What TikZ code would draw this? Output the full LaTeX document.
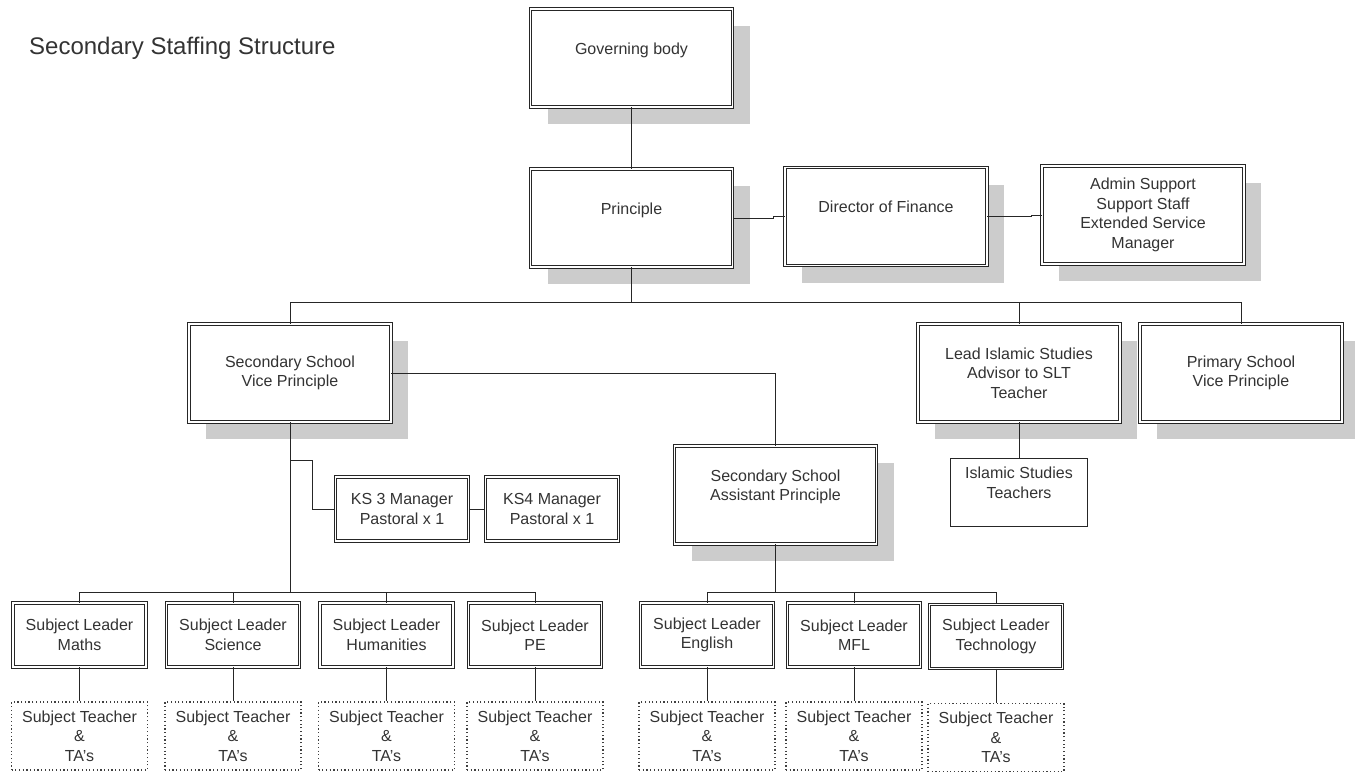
\documentclass[tikz,border=0pt]{standalone}
\usepackage{fontspec}
\setmainfont{Liberation Sans}
\usepackage{tikz}
\usetikzlibrary{positioning}
\usetikzlibrary{shadows}
\newcommand\orgfont{\fontsize{16}{19.5}\selectfont}
\newcommand\titlefont{\fontsize{24}{28}\selectfont}
\tikzset{%
	% Specifications for style of nodes:
	base/.style = {rectangle, draw=black!85, text=black!80,
		inner sep=2pt, align=center, font=\orgfont},
	post/.style = {base, fill=white, line width=0.9pt,
		double=white, double distance=1.5pt},
	seniorPost/.style = {post, minimum width=202pt, minimum height=98pt,
		drop shadow={shadow xshift=17pt, shadow yshift=-17pt, fill=black!20, opacity=1}},
	leaderPost/.style = {post, minimum width=133pt, minimum height=64pt},
	teamBox/.style = {base, draw=black!75, line width=1.2pt,
		dash pattern=on 1.2pt off 2.5pt, minimum width=136pt, minimum height=68pt},
	plainBox/.style = {base, line width=1pt, minimum width=137pt, minimum height=68pt},
	link/.style = {draw=black!85, line width=1pt},
}

\begin{document}
\begin{tikzpicture}[x=1pt, y=-1pt]
\useasboundingbox (0,0) rectangle (1355,776);

\node (title) [anchor=west, inner sep=0pt, text=black!80, font=\titlefont] at (29,48) {Secondary Staffing Structure};

% top of the structure
\node (governors) [seniorPost] at (631.5,58) {Governing body\\\mbox{}};
\node (principle) [seniorPost] at (631.5,218) {Principle\\\mbox{}};
\node (finance) [seniorPost] at (886,216.5) {Director of Finance\\\mbox{}};
\node (admin) [seniorPost] at (1143,215) {Admin Support\\Support Staff\\Extended Service\\Manager};

% vice principles
\node (secVP) [seniorPost] at (290,373) {Secondary School\\Vice Principle};
\node (islamicLead) [seniorPost] at (1019,373) {Lead Islamic Studies\\Advisor to SLT\\Teacher};
\node (primVP) [seniorPost] at (1241,373) {Primary School\\Vice Principle};
\node (islamicTeachers) [plainBox] at (1019,492.5) {Islamic Studies\\Teachers\\\mbox{}};
\node (assistP) [seniorPost] at (775.5,495) {Secondary School\\Assistant Principle\\\mbox{}};

% pastoral managers
\node (ks3) [leaderPost] at (402,509) {KS 3 Manager\\Pastoral x 1};
\node (ks4) [leaderPost] at (552,509) {KS4 Manager\\Pastoral x 1};

% subject leaders
\node (maths) [leaderPost] at (79.5,635) {Subject Leader\\Maths};
\node (science) [leaderPost] at (233,635) {Subject Leader\\Science};
\node (humanities) [leaderPost] at (386.5,635) {Subject Leader\\Humanities};
\node (pe) [leaderPost] at (535,635) {Subject Leader\\PE};
\node (english) [leaderPost] at (707,635) {Subject Leader\\English};
\node (mfl) [leaderPost] at (854,635) {Subject Leader\\MFL};
\node (tech) [leaderPost] at (996,636.5) {Subject Leader\\Technology};

% teachers under each leader
\foreach \lead in {maths, science, humanities, pe, english, mfl, tech} {
	\node (\lead Team) [teamBox, below=34pt of \lead] {Subject Teacher\\\&\\TA's};
	\draw[link] (\lead.south) -- (\lead Team.north);
}

% connectors
\coordinate (topBus) at (631.5,302);
\coordinate (ksTap) at (290,460);
\coordinate (secBus) at (290,592);
\coordinate (assistBus) at (775.5,592);

\draw[link] (governors.south) -- (principle.north);
\draw[link] (principle.east) -- ++(41,0) |- (finance.west);
\draw[link] (finance.east) -- ++(44,0) |- (admin.west);
\draw[link] (principle.south) -- (topBus) -| (secVP.north);
\draw[link] (topBus) -| (islamicLead.north);
\draw[link] (topBus) -| (primVP.north);
\draw[link] (islamicLead.south) -- (islamicTeachers.north);
\draw[link] (secVP.east) -| (assistP.north);
\draw[link] (secVP.south) -- (secBus);
\draw[link] (ksTap) -- ++(22,0) |- (ks3.west);
\draw[link] (ks3.east) -- (ks4.west);
\foreach \lead in {maths, science, humanities, pe}
	\draw[link] (secBus) -| (\lead.north);
\draw[link] (assistP.south) -- (assistBus);
\foreach \lead in {english, mfl, tech}
	\draw[link] (assistBus) -| (\lead.north);
\end{tikzpicture}
\end{document}
